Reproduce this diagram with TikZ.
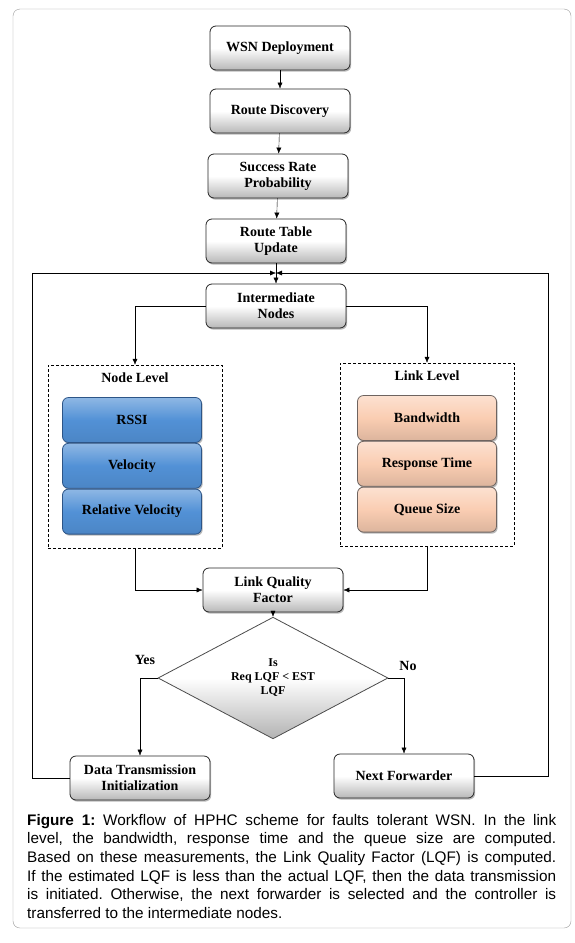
\documentclass[tikz,border=0pt]{standalone}
\usepackage{fontspec}
\setmainfont{Liberation Serif}
\newfontfamily\capfont{Liberation Sans}
\usetikzlibrary{positioning,shapes.geometric,shadows,arrows.meta}
\definecolor{rssiblue}{RGB}{82,145,214}
\definecolor{rssiedge}{RGB}{45,85,135}
\definecolor{peach}{RGB}{250,205,178}
\definecolor{peachedge}{RGB}{110,100,96}
\hyphenpenalty=10000
\exhyphenpenalty=10000
\lefthyphenmin=64
\righthyphenmin=64
\frenchspacing
\begin{document}
\begin{tikzpicture}[
        x=1pt, y=-1pt,
        >={Latex[length=6pt,width=5pt]},
        every node/.style={font=\bfseries\fontsize{14}{16}\selectfont, align=center, inner sep=2pt},
        boxn/.style={draw=black!85, thick, rounded corners=6pt, minimum width=140pt, minimum height=44pt,
            top color=white, bottom color=black!28, middle color=white,
            drop shadow={shadow xshift=1.2pt, shadow yshift=-1.6pt, opacity=.55}},
        bluen/.style={boxn, draw=rssiedge, top color=rssiblue!65!white, bottom color=rssiblue!92!black, middle color=rssiblue,
            minimum width=139pt, minimum height=45pt},
        peachn/.style={boxn, draw=peachedge, top color=peach!60!white, bottom color=peach!88!black, middle color=peach,
            minimum width=139pt, minimum height=45pt},
        groupn/.style={draw, densely dashed, thin, minimum width=174pt, minimum height=183pt},
        decn/.style={diamond, draw=black!70, thick, top color=white, bottom color=black!30, middle color=white,
            minimum width=230pt, minimum height=100pt, inner sep=0pt, font=\bfseries\fontsize{12}{14}\selectfont},
    ]
    \useasboundingbox (0,0) rectangle (574,943);
    \draw[black!40, rounded corners=7pt] (13,9) rectangle (571,928);

    % main chain
    \node[boxn](wsn) at (280,48){WSN Deployment};
    \node[boxn](route) at (280,111){Route Discovery};
    \node[boxn](success) at (278,176){Success Rate\\Probability};
    \node[boxn](table) at (276,241){Route Table\\Update};
    \node[boxn](inter) at (276,306){Intermediate\\Nodes};

    % node level
    \node[groupn](nodelvl) at (135,456.5){};
    \node(nodelbl) at (135,378){Node Level};
    \node[bluen](rssi) at (132,420){RSSI};
    \node[bluen, below=0pt of rssi](vel){Velocity};
    \node[bluen, below=0pt of vel](relvel){Relative Velocity};

    % link level
    \node[groupn](linklvl) at (427,454.5){};
    \node(linklbl) at (427,376){Link Level};
    \node[peachn](bw) at (427,418){Bandwidth};
    \node[peachn, below=0pt of bw](resp){Response Time};
    \node[peachn, below=0pt of resp](queue){Queue Size};

    \node[boxn](lqf) at (273,590){Link Quality\\Factor};
    \node[decn](dec) at (273,678){Is\\Req LQF < EST\\LQF};
    \node(yes) at (145,660){Yes};
    \node(no) at (408,666){No};
    \node[boxn](dti) at (140,778){Data Transmission\\Initialization};
    \node[boxn](nextf) at (404,776){Next Forwarder};

    \coordinate (loopl) at (32,273);
    \coordinate (loopm) at (276,273);
    \coordinate (loopr) at (548,273);

    \draw[->] (wsn) -- (route);
    \draw[->] (route) -- (success);
    \draw[->] (success) -- (table);
    \draw[->] (table) -- (inter);
    \draw[->] (inter.west) -| (nodelvl.north);
    \draw[->] (inter.east) -| (linklvl.north);
    \draw[->] (nodelvl.south) |- (lqf.west);
    \draw[->] (linklvl.south) |- (lqf.east);
    \draw[->] (lqf) -- (dec);
    \draw[->] (dec.west) -| (dti.north);
    \draw[->] (dec.east) -| (nextf.north);
    \draw[->] (dti.west) -| (loopl) -- (loopm);
    \draw[->] (nextf.east) -| (loopr) -- (loopm);

    \node[anchor=north west, inner sep=0pt, text width=529pt, align=justify,
        font=\capfont\fontsize{15.3}{18.6}\selectfont](caption) at (27,814)
        {\textbf{Figure 1:} Workflow of HPHC scheme for faults tolerant WSN. In the link\linebreak
        level, the bandwidth, response time and the queue size are computed.\linebreak
        Based on these measurements, the Link Quality Factor (LQF) is computed.\linebreak
        If the estimated LQF is less than the actual LQF, then the data transmission\linebreak
        is initiated. Otherwise, the next forwarder is selected and the controller is\linebreak
        transferred to the intermediate nodes.};
\end{tikzpicture}
\end{document}
